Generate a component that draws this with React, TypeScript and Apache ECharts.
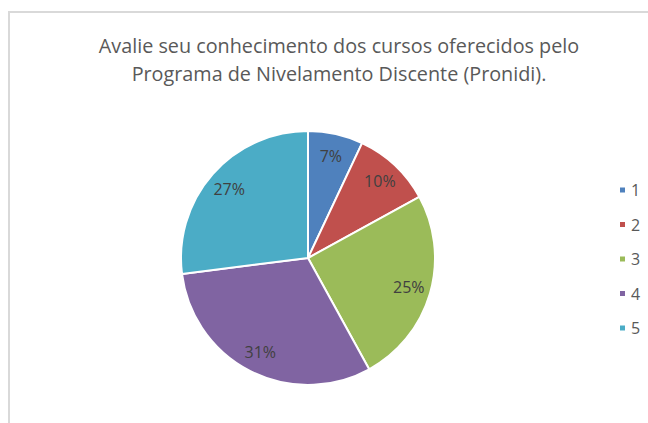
import React, { useEffect, useRef } from "react";
import * as echarts from "echarts";

const titleLines = [
  "Avalie seu conhecimento dos cursos oferecidos pelo",
  "Programa de Nivelamento Discente (Pronidi).",
];
const categories = ["1", "2", "3", "4", "5"];
const values = [7, 10, 25, 31, 27];
const colors = ["#4F81BD", "#C0504D", "#9BBB59", "#8064A2", "#4BACC6"];

export default function App() {
  const ref = useRef<HTMLDivElement>(null);
  useEffect(() => {
    if (!ref.current) return;
    const chart = echarts.init(ref.current, undefined, { renderer: "svg" });
    const data = categories.map((c, i) => ({
      name: c,
      value: values[i],
      itemStyle: { color: colors[i] },
    }));
    chart.setOption({
      animation: false,
      backgroundColor: "#ffffff",
      textStyle: { fontFamily: "Open Sans, Liberation Sans, sans-serif" },
      title: {
        text: titleLines.join("\n"),
        left: 334,
        textAlign: "center",
        top: 26,
        textStyle: {
          fontSize: 19.8,
          fontWeight: "normal",
          color: "#595959",
          lineHeight: 28,
          fontFamily: "Open Sans, Liberation Sans, sans-serif",
        },
      },
      legend: {
        orient: "vertical",
        left: 613,
        top: 175,
        itemWidth: 7,
        itemHeight: 7,
        itemGap: 14.5,
        icon: "rect",
        data: categories,
        textStyle: { fontSize: 16, color: "#595959", lineHeight: 20 },
      },
      graphic: [
        {
          type: "rect",
          shape: { x: 9, y: 12, width: 700, height: 500 },
          style: { fill: "none", stroke: "#D9D9D9", lineWidth: 2 },
          silent: true,
        },
      ],
      series: [
        {
          type: "pie",
          center: [308, 258],
          radius: [0, 127],
          startAngle: 90,
          clockwise: true,
          data,
          label: { show: false },
          labelLine: { show: false },
          itemStyle: { borderColor: "#ffffff", borderWidth: 2 },
          emphasis: { disabled: true },
        },
        {
          type: "pie",
          center: [308, 258],
          radius: [77, 127],
          startAngle: 90,
          clockwise: true,
          silent: true,
          data: categories.map((c, i) => ({ name: c, value: values[i] })),
          itemStyle: { color: "rgba(0,0,0,0)", borderWidth: 0 },
          label: {
            show: true,
            position: "inside",
            formatter: "{c}%",
            fontSize: 16,
            color: "#404040",
            fontFamily: "Open Sans, Liberation Sans, sans-serif",
          },
          labelLine: { show: false },
          emphasis: { disabled: true },
        },
      ],
    });
    return () => chart.dispose();
  }, []);
  return (
    <div
      ref={ref}
      style={{ position: "fixed", left: 0, top: 0, width: 648, height: 423 }}
    />
  );
}
